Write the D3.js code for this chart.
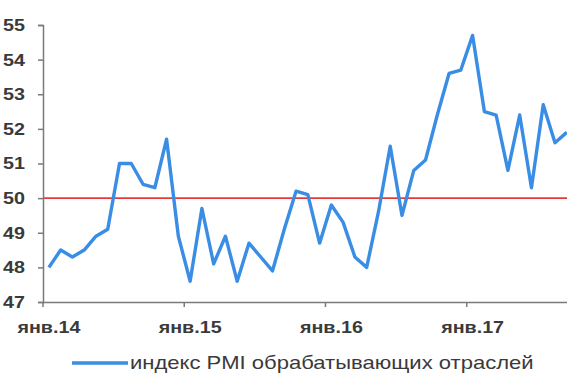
<!DOCTYPE html>
<html><head><meta charset="utf-8">
<script src="https://cdn.jsdelivr.net/npm/d3@7"></script>
<style>
html,body{margin:0;padding:0;background:#fff;overflow:hidden;}
svg{display:block;font-family:"Liberation Sans",Arial,sans-serif;}
</style></head><body>
<script>
// Months Jan 2014 .. Sep 2017
const months = ["янв.14","фев.14","мар.14","апр.14","май.14","июн.14","июл.14","авг.14","сен.14","окт.14","ноя.14","дек.14",
"янв.15","фев.15","мар.15","апр.15","май.15","июн.15","июл.15","авг.15","сен.15","окт.15","ноя.15","дек.15",
"янв.16","фев.16","мар.16","апр.16","май.16","июн.16","июл.16","авг.16","сен.16","окт.16","ноя.16","дек.16",
"янв.17","фев.17","мар.17","апр.17","май.17","июн.17","июл.17","авг.17","сен.17"];
const pmi = [48.0,48.5,48.3,48.5,48.9,49.1,51.0,51.0,50.4,50.3,51.7,48.9,
47.6,49.7,48.1,48.9,47.6,48.7,48.3,47.9,49.1,50.2,50.1,48.7,
49.8,49.3,48.3,48.0,49.6,51.5,49.5,50.8,51.1,52.4,53.6,53.7,
54.7,52.5,52.4,50.8,52.4,50.3,52.7,51.6,51.9];
const yTicks = [47,48,49,50,51,52,53,54,55];
const xTickLabels = ["янв.14","янв.15","янв.16","янв.17"];
const threshold = 50;
const legendLabel = "индекс PMI обрабатывающих отраслей";

const W = 567, H = 374;
const SX = 1.16; // horizontal stretch of text in the reference
const svg = d3.select("body").append("svg").attr("width", W).attr("height", H);

const x = d3.scaleBand().domain(months).range([43, 43 + 45*11.77]).padding(0);
const y = d3.scaleLinear().domain([47,55]).range([302,25]);
const bw = x.bandwidth();
const axisColor = "#7a7a7a", textColor = "#3a3a3a";

// threshold line
svg.append("line").attr("x1", 43).attr("x2", W).attr("y1", y(threshold)).attr("y2", y(threshold))
  .attr("stroke", "#e8383a").attr("stroke-width", 1.6);

// y axis
const ya = svg.append("g").attr("transform","translate(43,0)")
  .call(d3.axisLeft(y).tickValues(yTicks).tickSize(5).tickPadding(10.5).tickFormat(d3.format("d")));
ya.select(".domain").attr("stroke", axisColor).attr("stroke-width",1.5);
ya.selectAll(".tick line").attr("stroke", axisColor).attr("stroke-width",1.5);
ya.selectAll(".tick text").attr("fill", textColor).attr("font-size", 17).attr("font-weight","bold")
  .attr("font-family","Liberation Sans, Arial, sans-serif").attr("transform",`scale(${SX},1)`);

// x axis
const xa = svg.append("g").attr("transform","translate(0,302)")
  .call(d3.axisBottom(x).tickValues(xTickLabels).tickSize(5).tickPadding(14).tickSizeOuter(0));
xa.select(".domain").attr("stroke", axisColor).attr("stroke-width",1.5);
xa.selectAll(".tick line").attr("stroke", axisColor).attr("stroke-width",1.5).attr("x1",-bw/2).attr("x2",-bw/2);
xa.selectAll(".tick text").attr("fill", textColor).attr("font-size", 17).attr("font-weight","bold")
  .attr("font-family","Liberation Sans, Arial, sans-serif").attr("transform",`scale(${SX},1)`);

// line
const line = d3.line().x((d,i)=>x(months[i]) + bw/2).y(d=>y(d));
svg.append("path").datum(pmi).attr("d", line).attr("fill","none")
  .attr("stroke","#3a8de4").attr("stroke-width",3.4).attr("stroke-linejoin","round");

// legend
const lg = svg.append("g");
lg.append("line").attr("x1",72).attr("x2",128).attr("y1",363).attr("y2",363)
  .attr("stroke","#3a8de4").attr("stroke-width",3.4);
lg.append("text").attr("transform",`translate(130,369) scale(${SX},1)`).text(legendLabel)
  .attr("fill",textColor).attr("font-size",19).attr("font-family","Liberation Sans, Arial, sans-serif");
</script>
</body></html>
